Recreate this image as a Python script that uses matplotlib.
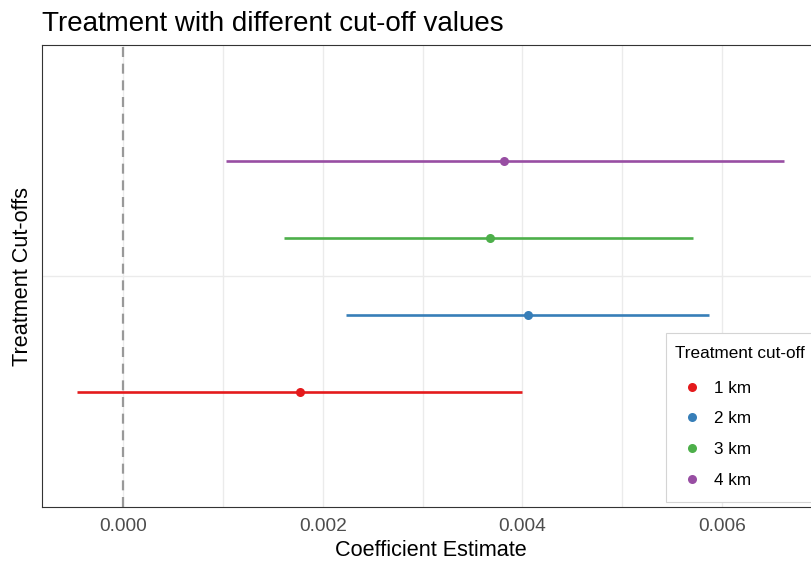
import numpy as np
import matplotlib
matplotlib.use('Agg')
import matplotlib.pyplot as plt
from matplotlib.lines import Line2D
from matplotlib.patches import Rectangle

# Coefficient estimates with confidence bounds for each treatment cut-off
cutoffs = ['1 km', '2 km', '3 km', '4 km']
estimate = [0.001775, 0.004057, 0.003670, 0.003816]
ci_low = [-0.000459, 0.002235, 0.001612, 0.001027]
ci_high = [0.004000, 0.005870, 0.005711, 0.006615]
colors = ['#E41A1C', '#377EB8', '#4DAF4A', '#984EA3']

plt.rcParams.update({
    'font.family': ['Liberation Sans', 'DejaVu Sans'],
    'axes.linewidth': 0.8,
})

W, H = 811, 563
fig = plt.figure(figsize=(W / 100, H / 100), dpi=100, facecolor='white')
# panel runs from x=42 to x=822 px (right edge falls outside the canvas)
ax = fig.add_axes([42 / W, (H - 507) / H, 780 / W, 462 / H])

# dodge the four cut-offs around the single category at y=1
dodge = 0.8
n = len(cutoffs)
y_pos = 1 + (np.arange(n) - (n - 1) / 2) * dodge / n

ax.axvline(0, color='#999999', lw=1.6, ls=(0, (4.5, 3)), zorder=2)
for i in range(n):
    ax.plot([ci_low[i], ci_high[i]], [y_pos[i]] * 2, color=colors[i], lw=1.9,
            solid_capstyle='butt', zorder=3)
    ax.plot(estimate[i], y_pos[i], 'o', color=colors[i], ms=6.5, mec='none', zorder=4)

span = max(ci_high) - min(ci_low)
ax.set_xlim(min(ci_low) - 0.05 * span, max(ci_high) + 0.05 * span)
ax.set_ylim(0.4, 1.6)

ax.set_xticks([0, 0.002, 0.004, 0.006])
ax.set_xticklabels(['0.000', '0.002', '0.004', '0.006'])
ax.set_xticks(np.arange(0.001, 0.0075, 0.002), minor=True)
ax.set_yticks([1])
ax.set_yticklabels([''])
ax.tick_params(axis='both', which='both', length=0)
ax.tick_params(axis='x', labelsize=13.8, labelcolor='#4D4D4D', pad=8)
ax.grid(True, which='both', color='#EBEBEB', lw=1.0, zorder=0)
ax.set_axisbelow(True)
for sp in ax.spines.values():
    sp.set_color('#333333')

fig.text(431 / W, 1 - 556 / H, 'Coefficient Estimate', fontsize=15.6,
         ha='center', va='baseline', color='black')
fig.text(23 / W, 1 - 276 / H, 'Treatment Cut-offs',
         fontsize=15.6, rotation=90, ha='center', va='center', color='black')
fig.text(42 / W, 1 - 31 / H, 'Treatment with different cut-off values',
         fontsize=20, ha='left', va='baseline', color='black')

# legend box sits inside the panel, running off the right edge
ax.add_patch(Rectangle((666 / W, (H - 502) / H), 170 / W, 169 / H,
                       transform=fig.transFigure, facecolor='white',
                       edgecolor='#D4D4D4', lw=0.8, clip_on=False, zorder=4.5))
handles = [Line2D([], [], ls='none', marker='o', ms=6.5, color=c, mec='none') for c in colors]
leg = ax.legend(handles, cutoffs, title='Treatment cut-off', loc='upper left',
                bbox_to_anchor=(675 / W, 1 - 346 / H), bbox_transform=fig.transFigure,
                borderaxespad=0, borderpad=0, fontsize=12.3, title_fontsize=12.3,
                frameon=False, labelspacing=0.92, handletextpad=0.3, handlelength=2.0)
leg._legend_box.align = 'left'
leg._legend_box.sep = 14.2
leg.set_zorder(5)

fig.savefig('out.png', dpi=100, facecolor='white')
